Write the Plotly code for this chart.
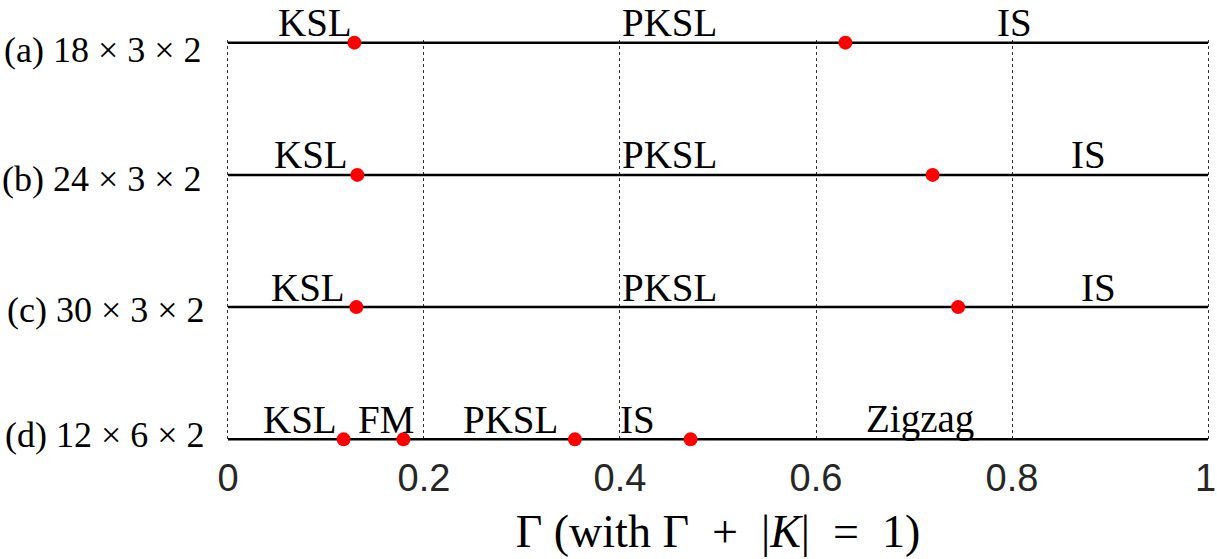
import plotly.graph_objects as go

# Rows (top to bottom)
row_labels = ["(a) 18 × 3 × 2", "(b) 24 × 3 × 2", "(c) 30 × 3 × 2", "(d) 12 × 6 × 2"]
row_y = [3, 2, 1, 0]

# Transition points (Γ values) per row
transitions = [
    [0.129, 0.630],
    [0.132, 0.719],
    [0.131, 0.745],
    [0.118, 0.179, 0.354, 0.472],
]

# Phase labels per row: (name, Γ position of label centre)
phase_names = [
    ["KSL", "PKSL", "IS"],
    ["KSL", "PKSL", "IS"],
    ["KSL", "PKSL", "IS"],
    ["KSL", "FM", "PKSL", "IS", "Zigzag"],
]
phase_pos = [
    [0.089, 0.451, 0.803],
    [0.085, 0.451, 0.878],
    [0.082, 0.451, 0.888],
    [0.073, 0.161, 0.288, 0.418, 0.706],
]

x_ticks = [0, 0.2, 0.4, 0.6, 0.8, 1]
x_tick_text = ["0", "0.2", "0.4", "0.6", "0.8", "1"]

# vertical offsets (px) of row labels relative to their line
row_label_shift = [-7, -4, -3, 4]
row_label_x = [-0.0225, -0.0225, -0.0190, -0.0190]

fig = go.Figure()

for y in row_y:
    fig.add_trace(go.Scatter(
        x=[0, 1], y=[y, y], mode="lines",
        line=dict(color="black", width=2.5),
        hoverinfo="skip", showlegend=False, cliponaxis=False,
    ))

for y, pts in zip(row_y, transitions):
    fig.add_trace(go.Scatter(
        x=pts, y=[y] * len(pts), mode="markers",
        marker=dict(color="#ff0000", size=14),
        showlegend=False, cliponaxis=False,
    ))

annotations = []
serif = "Liberation Serif, Times New Roman, serif"
tick_font = dict(family="Liberation Sans, Arial, sans-serif", size=38, color="#262626")
for y, names, poss in zip(row_y, phase_names, phase_pos):
    for n, p in zip(names, poss):
        annotations.append(dict(
            x=p, y=y, xref="x", yref="y", text=n, showarrow=False,
            xanchor="center", yanchor="middle", yshift=20, borderpad=0,
            font=dict(family=serif, size=39, color="black"),
        ))

for y, lab, sh, lx in zip(row_y, row_labels, row_label_shift, row_label_x):
    annotations.append(dict(
        x=lx, y=y, xref="paper", yref="y", text=lab, showarrow=False,
        xanchor="right", yanchor="middle", yshift=sh,
        font=dict(family=serif, size=36, color="black"),
    ))

# last tick label drawn as annotation so it stays inside the page
annotations.append(dict(
    x=x_ticks[-1], y=0, xref="x", yref="paper", text=x_tick_text[-1],
    showarrow=False, xanchor="center", yanchor="top", xshift=-3, yshift=-14,
    borderpad=0, font=tick_font,
))
axis_tick_text = x_tick_text[:-1] + [""]

nb = "\u2002"
title_text = f"Γ (with Γ{nb}+{nb}|<i>K</i>|{nb}={nb}1)"

fig.update_layout(
    width=1217, height=559,
    margin=dict(l=226, r=7, t=40, b=117, autoexpand=False),
    paper_bgcolor="white", plot_bgcolor="white",
    annotations=annotations,
    xaxis=dict(
        range=[-0.002, 1.002], automargin=False,
        tickvals=x_ticks, ticktext=axis_tick_text,
        showgrid=True, gridcolor="#333333", griddash="dot", gridwidth=1,
        zeroline=False, showline=False, ticks="",
        tickfont=tick_font,
        ticklabelstandoff=10,
        title=dict(text=title_text,
                   font=dict(family=serif, size=46, color="black"),
                   standoff=16),
    ),
    yaxis=dict(
        range=[-0.02, 3.02], showgrid=False, zeroline=False,
        showticklabels=False, showline=False, ticks="",
    ),
)

fig.write_html("out.html")
